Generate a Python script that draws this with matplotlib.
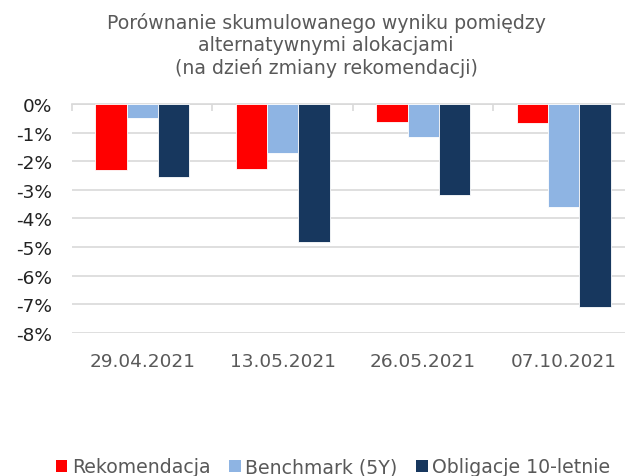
import numpy as np
import matplotlib
matplotlib.use('Agg')
import matplotlib.pyplot as plt
from matplotlib.ticker import FuncFormatter, FixedLocator
from matplotlib.patches import Patch

dates = ['29.04.2021', '13.05.2021', '26.05.2021', '07.10.2021']
rekomendacja = [-2.30, -2.27, -0.64, -0.66]
benchmark = [-0.50, -1.72, -1.14, -3.60]
obligacje = [-2.56, -4.81, -3.17, -7.11]

series = ['Rekomendacja', 'Benchmark (5Y)', 'Obligacje 10-letnie']
colors = ['#FF0000', '#8EB4E3', '#17375E']

gray = '#595959'
plt.rcParams['font.family'] = 'DejaVu Sans'

fig = plt.figure(figsize=(6.25, 4.77), dpi=100)
ax = fig.add_axes([0.1152, 0.300, 0.899, 0.480])

x = np.arange(len(dates))
w = 0.223
for i, (vals, c) in enumerate(zip([rekomendacja, benchmark, obligacje], colors)):
    ax.bar(x + (i - 1) * w, vals, w, color=c, edgecolor='white', linewidth=0.6, zorder=3)

ax.set_xlim(-0.5, 3.5)
ax.set_ylim(-8, 0)
ax.set_yticks(range(-8, 1))
ax.yaxis.set_major_formatter(FuncFormatter(lambda v, p: f'{int(v)}%'))
ax.grid(axis='y', color='#D9D9D9', linewidth=1.2, zorder=0)
ax.set_axisbelow(True)

ax.set_xticks(x)
ax.set_xticklabels(dates, color=gray, fontsize=13.3)
ax.xaxis.set_minor_locator(FixedLocator(np.arange(-0.5, 4, 1)))
ax.tick_params(axis='x', which='major', length=0, pad=14)
ax.tick_params(axis='x', which='minor', top=True, bottom=False, direction='in',
               length=5, color='#D9D9D9', width=1.2)
ax.tick_params(axis='y', length=0, pad=14, labelsize=13.3, labelcolor='#222222')

for s in ['left', 'right', 'bottom']:
    ax.spines[s].set_visible(False)
ax.spines['top'].set_color('#D9D9D9')
ax.spines['top'].set_linewidth(1.2)

fig.text(0.522, 0.905, 'Porównanie skumulowanego wyniku pomiędzy\nalternatywnymi alokacjami\n(na dzień zmiany rekomendacji)',
         ha='center', va='center', fontsize=13.6, color=gray, linespacing=1.2)

handles = [Patch(facecolor=c, edgecolor='none') for c in colors]
fig.legend(handles, series, loc='center', bbox_to_anchor=(0.533, 0.019), ncol=3,
           frameon=False, fontsize=13.6, labelcolor=gray, handlelength=0.6, handleheight=0.6,
           handletextpad=0.25, columnspacing=1.0, borderpad=0)

fig.savefig('out.png', dpi=100)
